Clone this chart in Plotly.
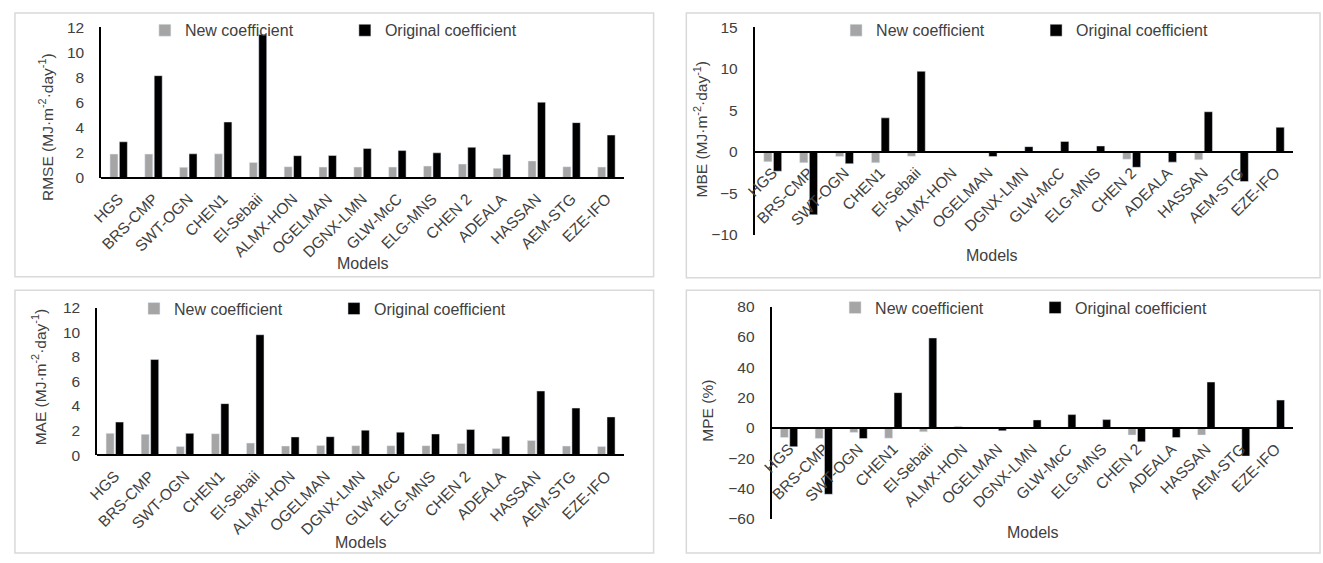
import plotly.graph_objects as go

# ---------------- data ----------------
models = ["HGS", "BRS-CMP", "SWT-OGN", "CHEN1", "El-Sebaii", "ALMX-HON", "OGELMAN",
          "DGNX-LMN", "GLW-McC", "ELG-MNS", "CHEN 2", "ADEALA", "HASSAN", "AEM-STG", "EZE-IFO"]

rmse_new = [1.89, 1.89, 0.83, 1.91, 1.22, 0.88, 0.85, 0.85, 0.85, 0.93, 1.09, 0.75, 1.34, 0.88, 0.85]
rmse_orig = [2.87, 8.15, 1.91, 4.45, 11.43, 1.76, 1.78, 2.33, 2.17, 1.99, 2.43, 1.86, 6.03, 4.40, 3.41]

mbe_new = [-1.21, -1.33, -0.58, -1.33, -0.55, 0.02, -0.03, 0.02, 0.02, 0.03, -0.90, -0.05, -0.97, -0.05, 0.03]
mbe_orig = [-2.34, -7.60, -1.44, 4.09, 9.71, 0.02, -0.58, 0.62, 1.25, 0.70, -1.87, -1.25, 4.83, -3.59, 2.96]

mae_new = [1.77, 1.69, 0.71, 1.74, 0.98, 0.74, 0.79, 0.77, 0.77, 0.77, 0.95, 0.53, 1.19, 0.74, 0.71]
mae_orig = [2.69, 7.78, 1.77, 4.19, 9.80, 1.48, 1.50, 2.03, 1.87, 1.72, 2.08, 1.53, 5.22, 3.83, 3.11]

mpe_new = [-6.4, -7.0, -3.0, -6.8, -2.6, 1.1, -0.3, 0.3, 0.3, 0.2, -4.7, -0.5, -4.7, -0.4, 0.2]
mpe_orig = [-12.4, -43.8, -7.0, 23.3, 59.4, 0.2, -1.9, 5.3, 8.8, 5.5, -9.2, -6.4, 30.3, -18.6, 18.4]

series_names = ["New coefficient", "Original coefficient"]
y_titles = ["RMSE (MJ·m<sup>-2</sup>·day<sup>-1</sup>)", "MBE (MJ·m<sup>-2</sup>·day<sup>-1</sup>)",
            "MAE (MJ·m<sup>-2</sup>·day<sup>-1</sup>)", "MPE (%)"]
x_title = "Models"

# ---------------- style / layout ----------------
W, H = 1323, 563
FONT = "Arial, 'Liberation Sans', sans-serif"
TXT = "#404040"
COL_NEW = "#a5a5a5"
COL_ORIG = "#000000"
FS_TICK = 15.5
FS_LEG = 16
FS_TITLE = 15.5


def px(x):
    return x / W


def py(y):
    return 1 - y / H


panels = [
    dict(new=rmse_new, orig=rmse_orig, title=y_titles[0], rng=[0, 12], dtick=2,
         xd=(91, 618), yd=(19, 174), border=(4, 4, 648, 276),
         ytitle_xy=(36, 122), models_xy=(355, 262), leg=(135, 22)),
    dict(new=mbe_new, orig=mbe_orig, title=y_titles[1], rng=[-10, 15], dtick=5,
         xd=(750, 1293), yd=(19, 232.7), border=(681, 4, 1320, 277),
         ytitle_xy=(696, 124), models_xy=(989, 254), leg=(832, 22)),
    dict(new=mae_new, orig=mae_orig, title=y_titles[2], rng=[0, 12], dtick=2,
         xd=(87, 618), yd=(308, 460), border=(4, 290, 648, 561),
         ytitle_xy=(28, 380), models_xy=(353, 550), leg=(124, 309)),
    dict(new=mpe_new, orig=mpe_orig, title=y_titles[3], rng=[-60, 80], dtick=20,
         xd=(767, 1293), yd=(307, 525.7), border=(681, 290, 1320, 561),
         ytitle_xy=(702, 414), models_xy=(1031, 540), leg=(831, 308)),
]

fig = go.Figure()
layout = dict(
    width=W, height=H, autosize=False,
    margin=dict(l=0, r=0, t=0, b=0),
    paper_bgcolor="white", plot_bgcolor="white",
    font=dict(family=FONT, size=FS_TICK, color=TXT),
    barmode="group", bargap=0.46, bargroupgap=0.15,
    shapes=[], annotations=[],
)

for i, p in enumerate(panels, start=1):
    sfx = "" if i == 1 else str(i)
    xa, ya = "x" + sfx, "y" + sfx
    leg = "legend" + sfx
    fig.add_trace(go.Bar(x=models, y=p["new"], name=series_names[0], marker_color=COL_NEW,
                         xaxis=xa, yaxis=ya, legend=leg))
    fig.add_trace(go.Bar(x=models, y=p["orig"], name=series_names[1], marker_color=COL_ORIG,
                         xaxis=xa, yaxis=ya, legend=leg))

    y0, y1 = py(p["yd"][1]), py(p["yd"][0])
    lo, hi = p["rng"]
    zero_pos = y0 + (0 - lo) / (hi - lo) * (y1 - y0)

    layout["xaxis" + sfx] = dict(
        domain=[px(p["xd"][0]), px(p["xd"][1])], anchor="free", position=zero_pos,
        showline=True, linecolor="black", linewidth=2, showgrid=False, zeroline=False,
        ticks="", tickangle=-45, tickfont=dict(size=FS_TICK, color=TXT), ticklabelstandoff=5,
        fixedrange=True,
    )
    layout["yaxis" + sfx] = dict(
        domain=[y0, y1], anchor=xa, range=p["rng"], dtick=p["dtick"], tick0=0,
        showline=True, linecolor="black", linewidth=2, showgrid=False, zeroline=False,
        ticks="", tickfont=dict(size=FS_TICK, color=TXT), ticklabelstandoff=12,
        fixedrange=True,
    )
    layout[leg] = dict(
        orientation="h", x=px(p["leg"][0]), y=py(p["leg"][1]), xanchor="left", yanchor="middle",
        bgcolor="rgba(0,0,0,0)", font=dict(size=FS_LEG, color=TXT),
        entrywidth=155, entrywidthmode="pixels", itemclick=False, itemdoubleclick=False,
    )
    bx0, by0, bx1, by1 = p["border"]
    layout["shapes"].append(dict(type="rect", xref="paper", yref="paper",
                                 x0=px(bx0), x1=px(bx1), y0=py(by1), y1=py(by0),
                                 line=dict(color="#d9d9d9", width=1.5), layer="below"))
    tx, ty = p["ytitle_xy"]
    layout["annotations"].append(dict(text=p["title"], xref="paper", yref="paper",
                                      x=px(tx), y=py(ty), textangle=-90, showarrow=False,
                                      xanchor="center", yanchor="middle",
                                      font=dict(size=FS_TITLE, color=TXT)))
    mx, my = p["models_xy"]
    layout["annotations"].append(dict(text=x_title, xref="paper", yref="paper",
                                      x=px(mx), y=py(my), showarrow=False,
                                      xanchor="center", yanchor="middle",
                                      font=dict(size=FS_LEG, color=TXT)))

fig.update_layout(**layout)
fig.write_html("out.html", config={"displayModeBar": False},
               post_script="document.body.style.margin='0';")
